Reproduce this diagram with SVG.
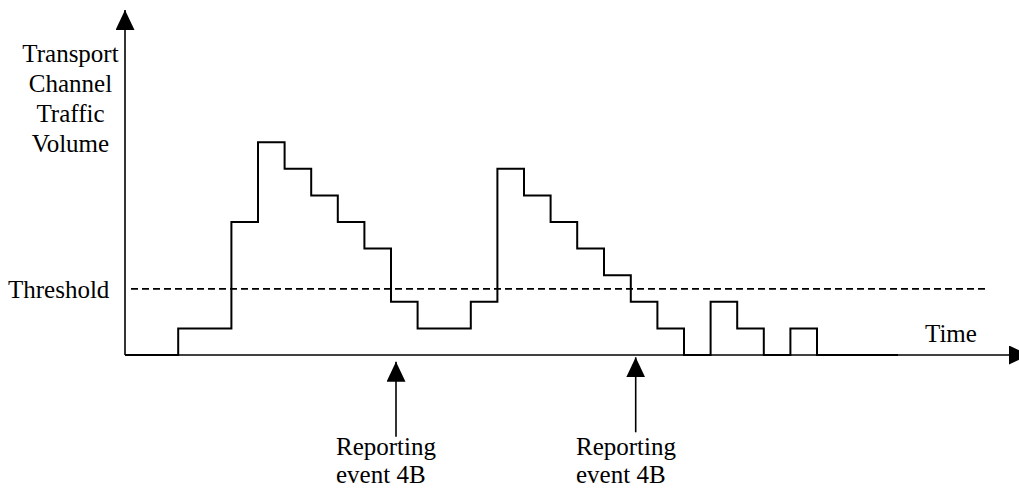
<svg xmlns="http://www.w3.org/2000/svg" width="1019" height="488" viewBox="0 0 1019 488">
  <style>
    .lbl { font-family: "Liberation Serif", "Times New Roman", serif; font-size: 25px; fill: #000; }
    .ax { stroke: #000; stroke-width: 1.6; fill: none; }
    .step { stroke: #000; stroke-width: 2; fill: none; stroke-linejoin: miter; }
    .thr { stroke: #000; stroke-width: 1.8; fill: none; stroke-dasharray: 7 4; }
  </style>
  <defs>
    <marker id="ah" viewBox="0 0 20 19" refX="20" refY="9.5" markerWidth="20" markerHeight="19" markerUnits="userSpaceOnUse" orient="auto">
      <path d="M0,0 L20,9.5 L0,19 z" fill="#000"/>
    </marker>
  </defs>
  <rect width="1019" height="488" fill="#fff"/>

  <g id="y-axis-label">
    <text class="lbl" x="70.5" y="61.5" text-anchor="middle">Transport</text>
    <text class="lbl" x="70.5" y="91.5" text-anchor="middle">Channel</text>
    <text class="lbl" x="70.5" y="121.5" text-anchor="middle">Traffic</text>
    <text class="lbl" x="70.5" y="151.5" text-anchor="middle">Volume</text>
  </g>
  <g id="threshold-label">
    <text class="lbl" x="8" y="298">Threshold</text>
  </g>
  <g id="time-label">
    <text class="lbl" x="925" y="341.5">Time</text>
  </g>
  <g id="threshold-line">
    <line class="thr" x1="131" y1="288.8" x2="986" y2="288.8"/>
  </g>
  <g id="traffic-volume">
    <path class="step" d="M125,355 H178.2 V328.4 H231.4 V222 H258 V142.2 H284.6 V168.8 H311.2 V195.4 H337.8 V222 H364.4 V248.6 H391 V301.8 H417.6 V328.4 H470.8 V301.8 H497.4 V168.8 H524 V195.4 H550.6 V222 H577.2 V248.6 H604 V275.2 H630.8 V301.8 H657.4 V328.4 H684 V355 H710.6 V301.8 H737.2 V328.4 H763.8 V355 H790.4 V328.4 H817 V355 H898"/>
  </g>
  <g id="event-1">
    <text class="lbl" x="336" y="455">Reporting</text>
    <text class="lbl" x="336" y="483">event 4B</text>
  </g>
  <g id="event-2">
    <text class="lbl" x="576" y="455">Reporting</text>
    <text class="lbl" x="576" y="483">event 4B</text>
  </g>
  <g id="connectors">
    <line class="ax" x1="125" y1="355" x2="125" y2="10" marker-end="url(#ah)"/>
    <line class="ax" x1="125" y1="355" x2="1029" y2="355" marker-end="url(#ah)"/>
    <line class="ax" x1="396" y1="436.7" x2="396" y2="361.7" marker-end="url(#ah)"/>
    <line class="ax" x1="635.7" y1="432.3" x2="635.7" y2="357.3" marker-end="url(#ah)"/>
  </g>
</svg>
